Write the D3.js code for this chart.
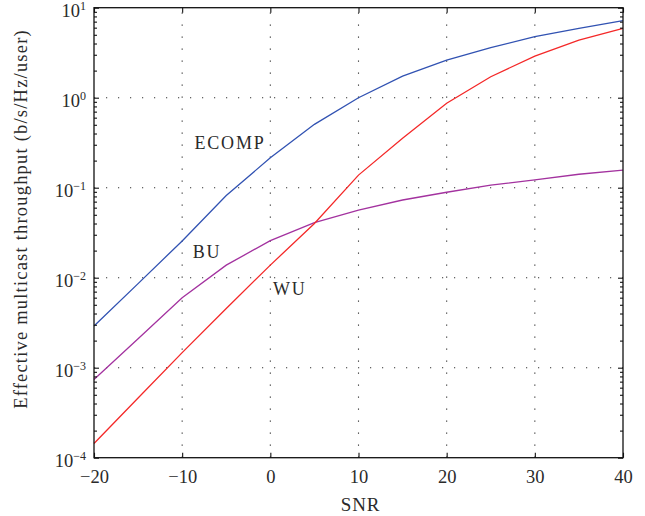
<!DOCTYPE html>
<html>
<head>
<meta charset="utf-8">
<script src="https://cdn.jsdelivr.net/npm/d3@7"></script>
<style>
  html, body { margin: 0; padding: 0; background: #fff; }
  svg text { font-family: "Liberation Serif", "DejaVu Serif", serif; fill: #2a2a2a; }
</style>
</head>
<body>
<svg id="chart" width="645" height="516"></svg>
<script>
// SNR sample points (dB)
const snr = [-20, -15, -10, -5, 0, 5, 10, 15, 20, 25, 30, 35, 40];
// Effective multicast throughput (b/s/Hz/user) per scheme
const ecomp = [0.0029, 0.0086, 0.0256, 0.082, 0.215, 0.506, 1.0, 1.74, 2.62, 3.59, 4.77, 5.9, 7.17];
const bu    = [7.4e-4, 2.1e-3, 6.0e-3, 0.0138, 0.0258, 0.041, 0.0565, 0.073, 0.089, 0.107, 0.122, 0.141, 0.157];
const wu    = [1.44e-4, 4.6e-4, 1.47e-3, 4.55e-3, 0.0138, 0.040, 0.138, 0.354, 0.867, 1.71, 2.9, 4.37, 5.9];

const xTicks = [-20, -10, 0, 10, 20, 30, 40];
const yExponents = [-4, -3, -2, -1, 0, 1];

const seriesNames = ["ECOMP", "BU", "WU"];
const seriesValues = [ecomp, bu, wu];
const seriesColors = ["#3152b2", "#a3329f", "#f42828"];
// label anchor positions in data space (SNR, throughput)
const labelX = [-8.6, -8.8, 0.3];
const labelY = [0.267, 0.0167, 0.0064];

const svg = d3.select("#chart");
const plotLeft = 94, plotRight = 623, plotTop = 7.7, plotBottom = 457.7;

const x = d3.scaleLinear().domain([-20, 40]).range([plotLeft, plotRight]);
const y = d3.scaleLog().domain([1e-4, 10]).range([plotBottom, plotTop]);

const minorY = [];
for (let e = -4; e < 1; e++) {
  for (let m = 2; m <= 9; m++) minorY.push(m * Math.pow(10, e));
}

// dotted grid
const grid = svg.append("g").attr("stroke", "#333").attr("stroke-width", 1.1)
  .attr("stroke-dasharray", "1.2,10.8");
grid.selectAll("line.gx").data(xTicks.slice(1, -1)).join("line")
  .attr("class", "gx")
  .attr("x1", d => x(d)).attr("x2", d => x(d))
  .attr("y1", plotBottom).attr("y2", plotTop);
grid.selectAll("line.gy").data(yExponents.slice(1, -1)).join("line")
  .attr("class", "gy")
  .attr("x1", plotLeft).attr("x2", plotRight)
  .attr("y1", d => y(Math.pow(10, d))).attr("y2", d => y(Math.pow(10, d)));

// curves
const line = d3.line().x(d => x(d[0])).y(d => y(d[1]));
seriesValues.forEach((vals, i) => {
  svg.append("path")
    .datum(snr.map((s, k) => [s, vals[k]]))
    .attr("d", line)
    .attr("fill", "none")
    .attr("stroke", seriesColors[i])
    .attr("stroke-width", 1.3);
});

// axes: bottom & left with labels, top & right tick-only (inward ticks)
const fmtMinus = d => String(d).replace("-", "\u2212");
const axB = svg.append("g").attr("transform", `translate(0,${plotBottom})`)
  .call(d3.axisBottom(x).tickValues(xTicks).tickSize(-5).tickPadding(12).tickFormat(fmtMinus));
const axT = svg.append("g").attr("transform", `translate(0,${plotTop})`)
  .call(d3.axisTop(x).tickValues(xTicks).tickSize(-5).tickFormat(""));
const yMajor = yExponents.map(e => Math.pow(10, e));
const axL = svg.append("g").attr("transform", `translate(${plotLeft},0)`)
  .call(d3.axisLeft(y).tickValues(yMajor).tickSize(-5).tickFormat(""));
const axR = svg.append("g").attr("transform", `translate(${plotRight},0)`)
  .call(d3.axisRight(y).tickValues(yMajor).tickSize(-5).tickFormat(""));
const axLm = svg.append("g").attr("transform", `translate(${plotLeft},0)`)
  .call(d3.axisLeft(y).tickValues(minorY).tickSize(-3).tickFormat(""));
const axRm = svg.append("g").attr("transform", `translate(${plotRight},0)`)
  .call(d3.axisRight(y).tickValues(minorY).tickSize(-3).tickFormat(""));

[axB, axT, axL, axR, axLm, axRm].forEach(g => {
  g.select(".domain").remove();
  g.selectAll(".tick line").attr("stroke", "#111").attr("stroke-width", 1.1);
});
axB.selectAll(".tick text")
  .style("font-family", '"Liberation Serif", serif')
  .attr("font-size", 18.5).attr("fill", "#2a2a2a");

// y tick labels: 10 with superscript exponent
const yl = svg.append("g");
yExponents.forEach(e => {
  const t = yl.append("text")
    .attr("x", plotLeft - 8)
    .attr("y", y(Math.pow(10, e)) + 9)
    .attr("text-anchor", "end")
    .attr("font-size", 18.5);
  t.append("tspan").text("10");
  t.append("tspan").attr("dy", -7).attr("font-size", 12).text(fmtMinus(e));
});

// frame
svg.append("rect")
  .attr("x", plotLeft).attr("y", plotTop)
  .attr("width", plotRight - plotLeft).attr("height", plotBottom - plotTop)
  .attr("fill", "none").attr("stroke", "#111").attr("stroke-width", 1.3);

// curve labels
seriesNames.forEach((n, i) => {
  svg.append("text")
    .attr("x", x(labelX[i])).attr("y", y(labelY[i]))
    .attr("font-size", 18)
    .attr("letter-spacing", 1.8)
    .text(n);
});

// axis titles
svg.append("text")
  .attr("x", (plotLeft + plotRight) / 2 + 2).attr("y", 511)
  .attr("text-anchor", "middle").attr("font-size", 19)
  .attr("letter-spacing", 0.8)
  .text("SNR");
svg.append("text")
  .attr("transform", `translate(27,${(15 + 423) / 2}) rotate(-90)`)
  .attr("text-anchor", "middle").attr("font-size", 18.5)
  .attr("letter-spacing", 1.2)
  .text("Effective multicast throughput (b/s/Hz/user)");
</script>
</body>
</html>
